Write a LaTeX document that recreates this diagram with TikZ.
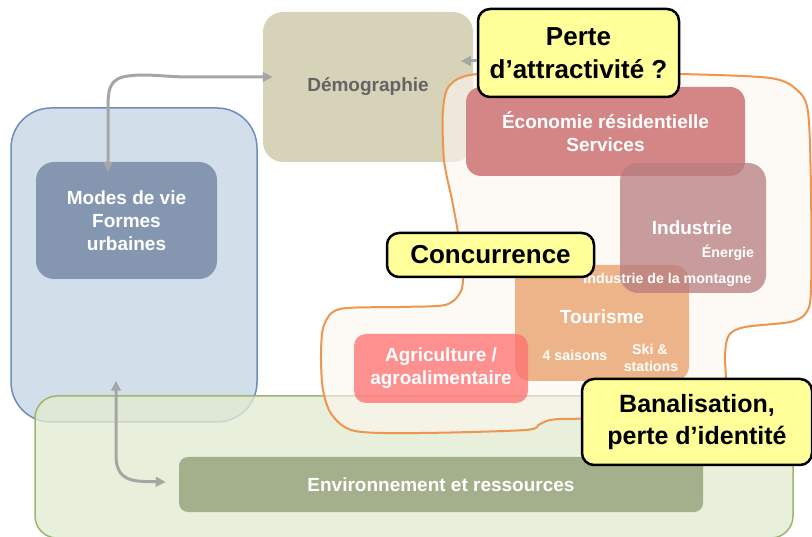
\documentclass[tikz,border=0pt]{standalone}
\usepackage{fontspec}
\setmainfont{Liberation Sans}
\usetikzlibrary{arrows.meta}
\definecolor{bluefill}{RGB}{211,222,235}
\definecolor{blueline}{RGB}{108,142,191}
\definecolor{greenfill}{RGB}{226,235,208}
\definecolor{greenline}{RGB}{155,183,110}
\definecolor{demfill}{RGB}{214,211,184}
\definecolor{demtext}{RGB}{100,100,100}
\definecolor{modesfill}{RGB}{133,151,176}
\definecolor{envfill}{RGB}{163,176,139}
\definecolor{blobfill}{RGB}{253,246,239}
\definecolor{blobline}{RGB}{236,150,80}
\definecolor{ecofill}{RGB}{212,134,134}
\definecolor{indfill}{RGB}{183,125,127}
\definecolor{tourfill}{RGB}{238,180,137}
\definecolor{agrifill}{RGB}{255,110,110}
\definecolor{calloutfill}{RGB}{255,255,153}
\definecolor{arrowgray}{RGB}{166,166,166}
\newcommand\mainlab{\bfseries\fontsize{19}{23}\selectfont}
\newcommand\smalllab{\bfseries\fontsize{14.2}{17}\selectfont}
\newcommand\calloutlab{\bfseries\fontsize{26}{32.5}\selectfont}
\tikzset{
  panel/.style={rectangle, inner sep=0pt, align=center, text=white, font=\mainlab},
  lab/.style={inner sep=0pt, text=white, font=\mainlab, anchor=base},
  smalltxt/.style={inner sep=0pt, text=white, font=\smalllab, anchor=base},
  callout/.style={rectangle, draw=black, line width=2.5pt, fill=calloutfill, rounded corners=12pt,
    inner sep=0pt, align=center, text=black, font=\calloutlab},
  tipg/.tip={Triangle[length=10pt,width=9.5pt]},
  garrow/.style={draw=arrowgray, line width=3pt, tipg-tipg},
}
\begin{document}
\begin{tikzpicture}[x=1pt,y=-1pt]
\useasboundingbox (0,0) rectangle (812,537);
\fill[white] (0,0) rectangle (812,537);

% large areas
\node[panel, fill=bluefill, draw=blueline, line width=1.5pt, rounded corners=40pt,
  minimum width=246pt, minimum height=314pt] (blue) at (134,265) {};
\node[panel, fill=greenfill, fill opacity=0.78, draw=greenline, line width=1.5pt, rounded corners=22pt,
  minimum width=758pt, minimum height=142pt] (green) at (414,467) {};

\node[panel, fill=demfill, rounded corners=20pt, minimum width=210pt, minimum height=150pt,
  text=demtext] (dem) at (368,87) {Démographie};
\node[panel, fill=modesfill, rounded corners=18pt, minimum width=181pt, minimum height=117pt]
  (modes) at (126.5,220.5) {Modes de vie\\Formes\\urbaines};
\node[panel, fill=envfill, rounded corners=9pt, minimum width=524pt, minimum height=55pt]
  (env) at (441,484.5) {Environnement et ressources};

% orange blob
\draw[blobline, line width=2pt, fill=blobfill, fill opacity=0.6]
  plot[smooth cycle, tension=0.5] coordinates {
  (478,74) (580,73) (680,74) (770,78) (797,90) (808,112) (811,190) (811,290)
  (806,313) (790,322) (745,327) (729,335) (725,355) (725,395) (705,417) (650,419)
  (560,419) (540,424) (525,430) (420,433) (355,431) (332,415) (323,390) (321,355)
  (324,325) (340,309) (400,307) (445,305) (460,293) (463,275) (458,233) (452,200)
  (444,160) (443,110) (450,85)};

% economy boxes
\node[panel, fill=ecofill, rounded corners=15pt, minimum width=279pt, minimum height=89pt]
  (eco) at (605.5,131.5) {Économie résidentielle\\Services};
\node[panel, fill=tourfill, rounded corners=15pt, minimum width=174pt, minimum height=116pt]
  (tour) at (602,323) {};
\node[panel, fill=agrifill, fill opacity=0.75, text opacity=1, rounded corners=12pt,
  minimum width=174pt, minimum height=69pt] (agri) at (441,368.5) {Agriculture /\\agroalimentaire};
\node[panel, fill=indfill, fill opacity=0.75, rounded corners=18pt, minimum width=146pt,
  minimum height=130pt] (ind) at (693,228) {};

% texts
\node[lab] (indt) at (692,235) {Industrie};
\node[smalltxt] (ener) at (728,258) {Énergie};
\node[smalltxt] (indm) at (667.5,284) {Industrie de la montagne};
\node[lab] (tourt) at (602,324) {Tourisme};
\node[smalltxt] (sais) at (575,361) {4 saisons};
\node[smalltxt] (ski) at (650,355) {Ski \&};
\node[smalltxt] (stat) at (651,372) {stations};
\draw[white, line width=1pt] ([yshift=-12pt]tour.south -| 612,0) -- ([yshift=-50pt]tour.south -| 612,0);

% arrows
\draw[garrow] ([xshift=-18.5pt,yshift=-10pt]modes.north) -- (108,108)
  .. controls (108,82) and (112,76) .. (140,75)
  .. controls (160,75) and (170,77) .. (190,77) -- ([xshift=10pt,yshift=10pt]dem.west);
\draw[garrow] ([xshift=-18pt,yshift=42pt]blue.south) -- (116,455)
  .. controls (116,475) and (125,481) .. (145,481.5) -- ([xshift=-13pt,yshift=2.5pt]env.west);

% callouts
\node[callout, minimum width=201pt, minimum height=88pt] (perte) at (578.5,53)
  {Perte\\d’attractivité ?};
\draw[draw=arrowgray, line width=3pt, -tipg] ([yshift=-8pt]perte.west) -- ++(-16,0);
\node[callout, minimum width=230pt, minimum height=86pt, font=\bfseries\fontsize{25}{32}\selectfont]
  (banal) at (697,422) {Banalisation,\\perte d’identité};
\node[callout, minimum width=207pt, minimum height=44pt]
  (conc) at (490.5,255) {Concurrence};
\end{tikzpicture}
\end{document}
